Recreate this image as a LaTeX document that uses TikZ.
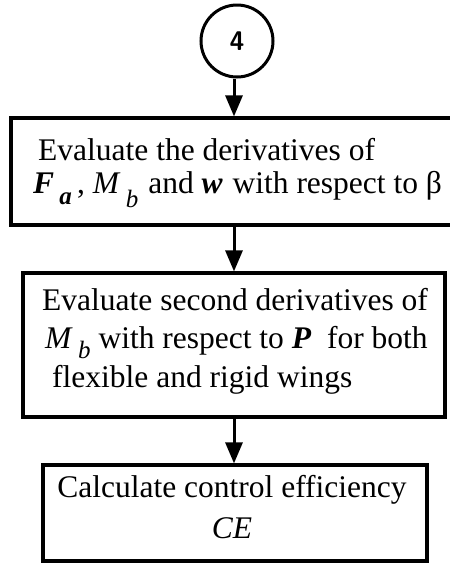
\documentclass[tikz,border=0pt]{standalone}
\usepackage{fontspec}
\setmainfont{Liberation Serif}
\usetikzlibrary{arrows.meta}
\newcommand{\sbs}[2]{\raisebox{-#1pt}{\fontsize{25}{25}\selectfont\textit{#2}}}
\begin{document}
\begin{tikzpicture}[x=1pt,y=-1pt,
  every node/.style={font=\fontsize{31.5}{35}\selectfont,inner sep=0pt},
  txt/.style={anchor=base west},
  boxa/.style={draw,line width=3.2pt,rectangle,inner sep=0pt},
  conn/.style={line width=3pt,-{Triangle[length=21pt,width=17pt]}}]
\useasboundingbox (0,0) rectangle (450,563);
\node[draw,circle,line width=3pt,minimum size=72pt,inner sep=0pt,font=\fontsize{27}{27}\selectfont\sffamily\bfseries] (c) at (237,41) {4};
% box 1
\node[boxa,minimum width=444pt,minimum height=107pt] (b1) at (233,171.5) {};
\node[txt] (t11) at (38,160) {Evaluate the derivatives of};
\node[txt] (t12) at (33,193) {\textbf{\textit{F}}\,\sbs{11}{\textbf{a}}\,, \textit{M}\,\sbs{14}{b}\hspace{2pt} and \textbf{\textit{w}}\hspace{2pt} with respect to β};
% box 2
\node[boxa,minimum width=422pt,minimum height=144pt] (b2) at (234,345) {};
\node[txt] (t21) at (42,310) {Evaluate second derivatives of};
\node[txt] (t22) at (45,348) {\textit{M}\,\sbs{10}{b} with respect to \textbf{\textit{P}}\ \ for both};
\node[txt] (t23) at (52,387) {flexible and rigid wings};
% box 3
\node[boxa,minimum width=384pt,minimum height=96pt] (b3) at (235,513) {};
\node[anchor=base] (t31) at (232,497) {Calculate control efficiency};
\node[anchor=base] (t32) at (232,538) {\textit{CE}};
\draw[conn] (c.south -| 234,0) coordinate (p0) -- (p0 |- b1.north);
\draw[conn] (b1.south -| p0) coordinate (p1) -- (p1 |- b2.north);
\draw[conn] (b2.south -| p0) coordinate (p2) -- (p2 |- b3.north);
\end{tikzpicture}
\end{document}
